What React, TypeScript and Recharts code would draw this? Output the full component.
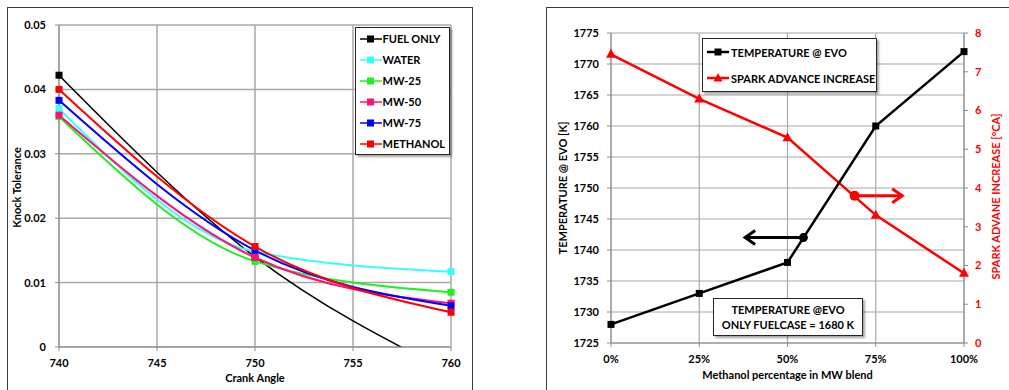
import {
  LineChart, Line, XAxis, YAxis, CartesianGrid, Legend, ReferenceLine, ReferenceDot,
} from 'recharts'

const FONT = 'Lato, "Liberation Sans", Arial, sans-serif'
const GRID = '#a8a8a8'
const AXIS = '#8c8c8c'

// ---- left panel: knock tolerance vs crank angle
const CRANK_ANGLE = [740, 750, 760]
const FUEL_ONLY = [0.0422, 0.0140, -0.0040]
const WATER = [0.0370, 0.0148, 0.0117]
const MW_25 = [0.0358, 0.0133, 0.0085]
const MW_50 = [0.0360, 0.0139, 0.0068]
const MW_75 = [0.0383, 0.0150, 0.0064]
const METHANOL = [0.0400, 0.0156, 0.0054]
const CRANK_TICKS = [740, 745, 750, 755, 760]
const KNOCK_TICKS = [0, 0.01, 0.02, 0.03, 0.04, 0.05]

// ---- right panel: temperature @ EVO and spark advance vs methanol share
const BLEND_PCT = [0, 25, 50, 75, 100]
const TEMP_EVO = [1728, 1733, 1738, 1760, 1772]
const SPARK_ADVANCE = [7.45, 6.3, 5.3, 3.3, 1.8]
const BLEND_TICKS = [0, 25, 50, 75, 100]
const TEMP_TICKS = [1725, 1730, 1735, 1740, 1745, 1750, 1755, 1760, 1765, 1770, 1775]
const SPARK_TICKS = [0, 1, 2, 3, 4, 5, 6, 7, 8]
// arrows pointing at each series' axis: [start x, end x] at a given y
const TEMP_ARROW_X = [54.5, 38]
const TEMP_ARROW_Y = 1742
const SPARK_ARROW_X = [69, 82.5]
const SPARK_ARROW_Y = 3.8

const KNOCK_SERIES = [
  { key: 'fuel', name: 'FUEL ONLY', color: '#000000', values: FUEL_ONLY },
  { key: 'water', name: 'WATER', color: '#33ffff', values: WATER },
  { key: 'mw25', name: 'MW-25', color: '#22ee22', values: MW_25 },
  { key: 'mw50', name: 'MW-50', color: '#ff1177', values: MW_50 },
  { key: 'mw75', name: 'MW-75', color: '#0000ff', values: MW_75 },
  { key: 'methanol', name: 'METHANOL', color: '#ff0000', values: METHANOL },
]
const EVO_ORDER = ['temp', 'spark']

const knockData = CRANK_ANGLE.map((ca, i) => {
  const row: Record<string, number> = { ca }
  KNOCK_SERIES.forEach(s => { row[s.key] = s.values[i] })
  return row
})

const evoData = BLEND_PCT.map((pct, i) => ({ pct, temp: TEMP_EVO[i], spark: SPARK_ADVANCE[i] }))

const TICK = { fontFamily: FONT, fontWeight: 700, fontSize: 11, fill: '#000' }

function squareDot(color: string, size = 7) {
  return (p: any) => {
    if (p.cx == null || p.cy == null) return <g key={`${p.dataKey}-${p.index}`} />
    return <rect key={`${p.dataKey}-${p.index}`} x={p.cx - size / 2} y={p.cy - size / 2} width={size} height={size} fill={color} />
  }
}

function triangleDot(color: string) {
  return (p: any) => (
    <path key={`${p.dataKey}-${p.index}`} d={`M${p.cx},${p.cy - 5.5} L${p.cx + 5},${p.cy + 3.5} L${p.cx - 5},${p.cy + 3.5} Z`} fill={color} />
  )
}

function AxisTitle({ viewBox, value, vertical, dx = 0, dy = 0, fill = '#000' }: any) {
  const { x, y, width, height } = viewBox
  const style = { fontFamily: FONT, fontWeight: 700, fontSize: 11, fill }
  if (vertical) {
    const cx = x + dx
    const cy = y + height / 2 + dy
    return (
      <text x={cx} y={cy} transform={`rotate(-90 ${cx} ${cy})`} textAnchor="middle" dominantBaseline="central" style={style}>{value}</text>
    )
  }
  return <text x={x + width / 2 + dx} y={y + dy} textAnchor="middle" style={style}>{value}</text>
}

function Arrow({ x1, y1, x2, y2, color }: any) {
  const dir = x2 > x1 ? 1 : -1
  return (
    <g>
      <line x1={x1} y1={y1} x2={x2 - dir * 1.5} y2={y2} stroke={color} strokeWidth={3} />
      <path d={`M${x2 - dir * 10},${y2 - 7} L${x2},${y2} L${x2 - dir * 10},${y2 + 7}`} stroke={color} strokeWidth={3} fill="none" />
    </g>
  )
}

const boxStyle = {
  border: '1.5px solid #262626',
  background: '#fff',
  boxShadow: '1.5px 1.5px 2px rgba(0,0,0,0.35)',
  fontFamily: FONT,
  fontWeight: 700,
  fontSize: 11,
  color: '#000',
  whiteSpace: 'nowrap' as const,
}

const byOrder = (order: string[]) => (a: any, b: any) => order.indexOf(a.dataKey) - order.indexOf(b.dataKey)

function KnockLegend({ payload }: any) {
  const items = [...(payload || [])].sort(byOrder(KNOCK_SERIES.map(s => s.key)))
  return (
    <div style={{ ...boxStyle, width: 89, padding: '0 0 0 3.5px' }}>
      {items.map((e: any) => (
        <div key={e.value} style={{ display: 'flex', alignItems: 'center', height: 21 }}>
          <svg width={22} height={10}>
            <line x1={0} y1={5} x2={22} y2={5} stroke={e.color} strokeWidth={1.5} />
            <rect x={7} y={1.5} width={7} height={7} fill={e.color} />
          </svg>
          <span style={{ marginLeft: 1 }}>{e.value}</span>
        </div>
      ))}
    </div>
  )
}

function EvoLegend({ payload }: any) {
  const items = [...(payload || [])].sort(byOrder(EVO_ORDER))
  return (
    <div style={{ ...boxStyle, width: 169, padding: '0 0 0 4px' }}>
      {items.map((e: any) => (
        <div key={e.value} style={{ display: 'flex', alignItems: 'center', height: 26 }}>
          <svg width={22} height={12}>
            <line x1={0} y1={6} x2={22} y2={6} stroke={e.color} strokeWidth={2.5} />
            {e.dataKey === 'spark'
              ? <path d="M11,1 L15.5,9.5 L6.5,9.5 Z" fill={e.color} />
              : <rect x={7.5} y={2.5} width={7} height={7} fill={e.color} />}
          </svg>
          <span style={{ marginLeft: 2 }}>{e.value}</span>
        </div>
      ))}
    </div>
  )
}

function KnockChart() {
  return (
    <LineChart width={466} height={383} data={knockData} margin={{ top: 18, right: 22, bottom: 0, left: 0 }}>
      <CartesianGrid stroke={GRID} strokeWidth={1.5} />
      <XAxis dataKey="ca" type="number" domain={[740, 760]} ticks={CRANK_TICKS} tick={TICK}
        stroke={AXIS} tickSize={4} tickMargin={8} height={43}
        label={<AxisTitle value="Crank Angle" dy={35} />} />
      <YAxis type="number" domain={[0, 0.05]} ticks={KNOCK_TICKS} allowDataOverflow tick={TICK}
        tickFormatter={(v: number) => (v === 0 ? '0' : v.toFixed(2))}
        stroke={AXIS} tickSize={4} tickMargin={9} width={52}
        label={<AxisTitle value="Knock Tolerance" vertical dx={9} dy={1.5} />} />
      <Legend layout="horizontal" align="center" verticalAlign="middle" content={<KnockLegend />}
        wrapperStyle={{ left: 348, top: 20, width: 'auto', height: 'auto' }} />
      {KNOCK_SERIES.map(s => (
        <Line key={s.key} type="monotone" dataKey={s.key} name={s.name} stroke={s.color}
          strokeWidth={s.key === 'fuel' ? 1.5 : 2} dot={squareDot(s.color)} activeDot={false}
          isAnimationActive={false} />
      ))}
    </LineChart>
  )
}

function EvoChart() {
  return (
    <LineChart width={463} height={383} data={evoData} margin={{ top: 26, right: 0, bottom: 0, left: 0 }}>
      <CartesianGrid stroke={GRID} strokeWidth={1.2} yAxisId="temp" />
      <XAxis dataKey="pct" type="number" domain={[0, 100]} ticks={BLEND_TICKS} tick={TICK}
        tickFormatter={(v: number) => `${v}%`} stroke={AXIS} tickSize={4} tickMargin={8} height={47}
        label={<AxisTitle value="Methanol percentage in MW blend" dy={36} />} />
      <YAxis yAxisId="temp" type="number" domain={[1725, 1775]} ticks={TEMP_TICKS} tick={TICK}
        stroke={AXIS} tickSize={4} tickMargin={8} width={65}
        label={<AxisTitle value="TEMPERATURE @ EVO [K]" vertical dx={16} />} />
      <YAxis yAxisId="spark" orientation="right" type="number" domain={[0, 8]} ticks={SPARK_TICKS}
        tick={{ ...TICK, fill: '#ff0000' }} stroke={AXIS} tickSize={4} tickMargin={7} width={45}
        label={<AxisTitle value="SPARK ADVANE INCREASE [°CA]" vertical dx={31.5} dy={8.5} fill="#ff0000" />} />
      <Legend layout="horizontal" align="center" verticalAlign="middle" content={<EvoLegend />}
        wrapperStyle={{ left: 156, top: 31, width: 'auto', height: 'auto' }} />
      <Line yAxisId="spark" type="linear" dataKey="spark" name="SPARK ADVANCE INCREASE" stroke="#ff0000"
        strokeWidth={2.5} dot={triangleDot('#ff0000')} activeDot={false} isAnimationActive={false} />
      <Line yAxisId="temp" type="linear" dataKey="temp" name="TEMPERATURE @ EVO" stroke="#000000"
        strokeWidth={2.5} dot={squareDot('#000000', 7)} activeDot={false} isAnimationActive={false} />
      <ReferenceLine yAxisId="temp" segment={[{ x: TEMP_ARROW_X[0], y: TEMP_ARROW_Y }, { x: TEMP_ARROW_X[1], y: TEMP_ARROW_Y }]}
        shape={(p: any) => <Arrow {...p} color="#000000" />} />
      <ReferenceLine yAxisId="spark" segment={[{ x: SPARK_ARROW_X[0], y: SPARK_ARROW_Y }, { x: SPARK_ARROW_X[1], y: SPARK_ARROW_Y }]}
        shape={(p: any) => <Arrow {...p} color="#ff0000" />} />
      <ReferenceDot yAxisId="temp" x={TEMP_ARROW_X[0]} y={TEMP_ARROW_Y} r={4.5} fill="#000000" stroke="none" />
      <ReferenceDot yAxisId="spark" x={SPARK_ARROW_X[0]} y={SPARK_ARROW_Y} r={5} fill="#ff0000" stroke="none" />
    </LineChart>
  )
}

export default function App() {
  return (
    <div style={{ position: 'absolute', left: 0, top: 0, width: 1009, height: 390, background: '#fff', overflow: 'hidden' }}>
      <div style={{ position: 'absolute', left: 7, top: 7, width: 466, height: 400, border: '1.5px solid #3a3a3a', boxSizing: 'border-box' }} />
      <div style={{ position: 'absolute', left: 546, top: 7, width: 480, height: 400, border: '1.5px solid #3a3a3a', boxSizing: 'border-box' }} />
      <div style={{ position: 'absolute', left: 7, top: 7 }}>
        <KnockChart />
      </div>
      <div style={{ position: 'absolute', left: 546, top: 7 }}>
        <EvoChart />
        <div style={{ ...boxStyle, position: 'absolute', left: 167, top: 290.5, width: 150, height: 38, boxSizing: 'border-box', textAlign: 'center', lineHeight: '15px', paddingTop: 3 }}>
          TEMPERATURE @EVO<br />ONLY FUELCASE = 1680 K
        </div>
      </div>
    </div>
  )
}
